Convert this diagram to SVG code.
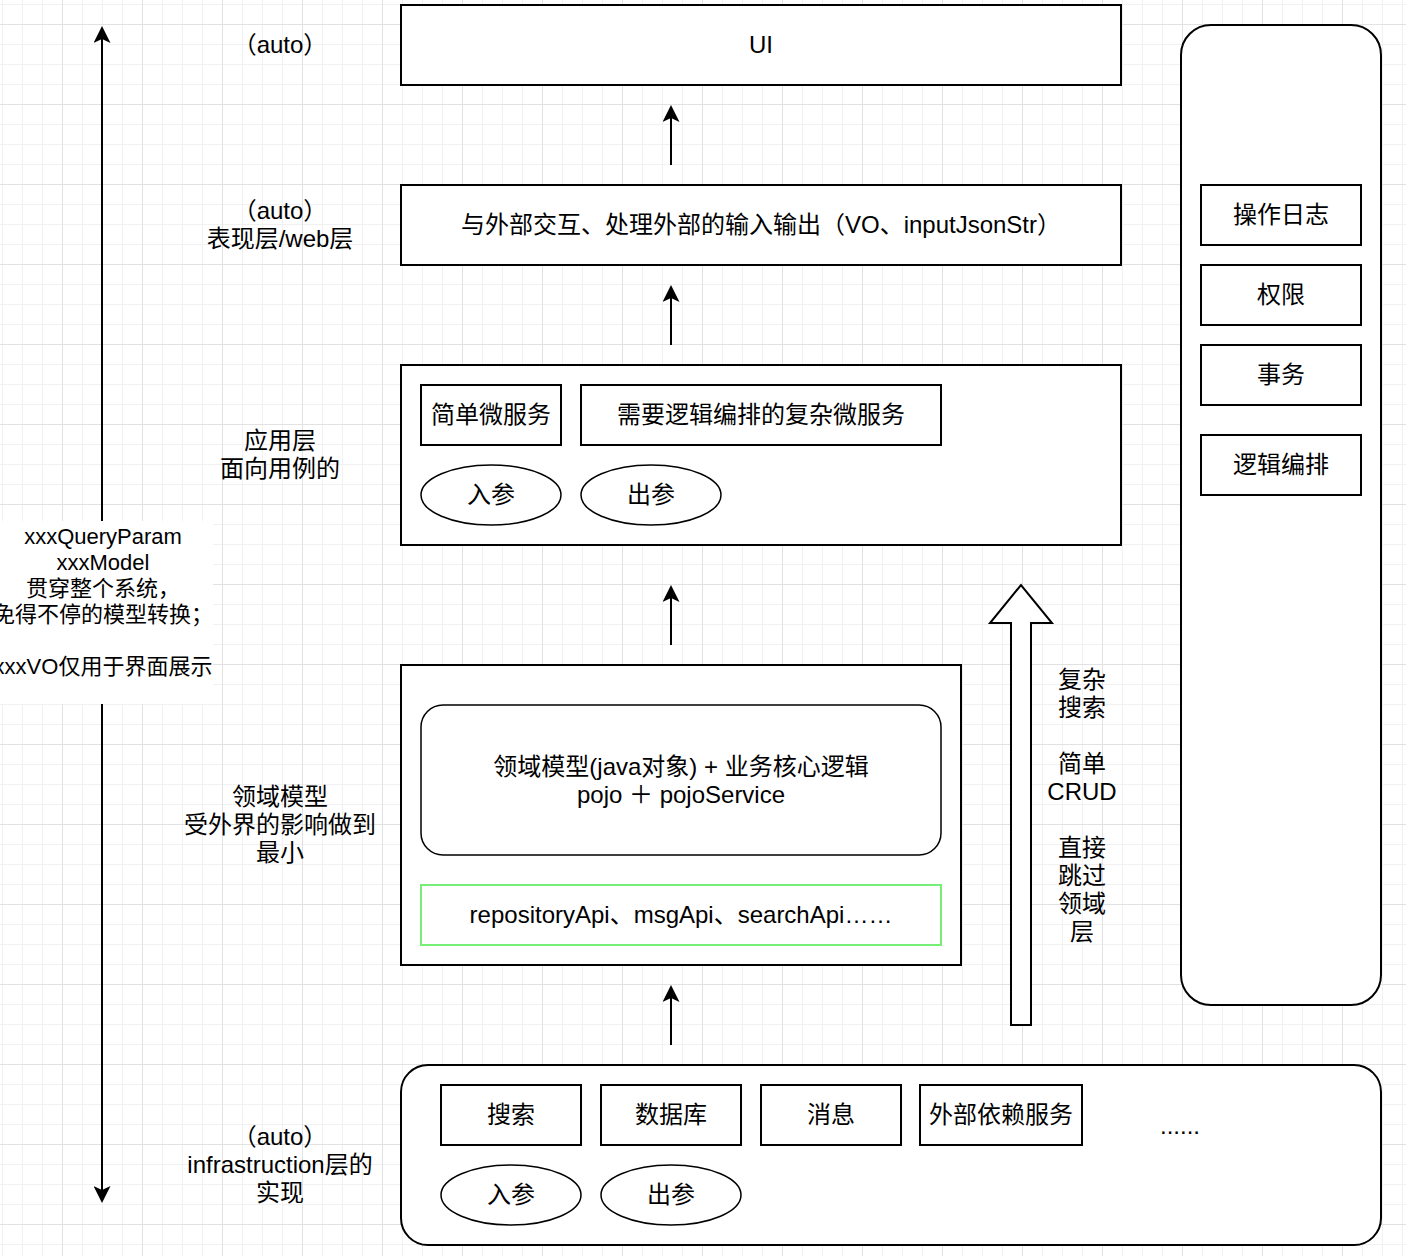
<svg xmlns="http://www.w3.org/2000/svg" width="1406" height="1256" viewBox="0 0 1406 1256">
<style>
text{font-family:"Liberation Sans","Noto Sans CJK SC",sans-serif;font-size:24px;fill:#000;text-anchor:middle}
.sm{font-size:22px}
.box{fill:#fff;stroke:#000;stroke-width:2}
.ell{fill:#fff;stroke:#000;stroke-width:1.5}
.conn{fill:none;stroke:#000;stroke-width:2}
</style>
<defs>
<pattern id="gmin" x="2" y="4" width="20" height="20" patternUnits="userSpaceOnUse"><rect width="20" height="1" fill="#f1f1f1"/><rect width="1" height="20" fill="#f1f1f1"/></pattern>
<pattern id="gmaj" x="62" y="24" width="80" height="80" patternUnits="userSpaceOnUse"><rect width="80" height="1" fill="#e2e2e2"/><rect width="1" height="80" fill="#e2e2e2"/></pattern>
<marker id="ah" viewBox="0 0 17 17" refX="4" refY="8.5" markerWidth="17" markerHeight="17" markerUnits="userSpaceOnUse" orient="auto-start-reverse"><path d="M0,0 L17,8.5 L0,17 L4,8.5 Z" fill="#000"/></marker>
</defs>
<rect width="1406" height="1256" fill="#fff"/>
<rect width="1406" height="1256" fill="url(#gmin)"/>
<rect width="1406" height="1256" fill="url(#gmaj)"/>

<g id="connectors">
<path class="conn" d="M102,39 L102,1190" marker-start="url(#ah)" marker-end="url(#ah)"/>
<path class="conn" d="M671,165 L671,118" marker-end="url(#ah)"/>
<path class="conn" d="M671,345 L671,298" marker-end="url(#ah)"/>
<path class="conn" d="M671,645 L671,598" marker-end="url(#ah)"/>
<path class="conn" d="M671,1045 L671,998" marker-end="url(#ah)"/>
<polygon points="1011,1025 1011,623 990,623 1021,585 1052,623 1031,623 1031,1025" fill="#fff" stroke="#000" stroke-width="2"/>
</g>

<g id="label-left">
<rect x="-7" y="521" width="220" height="183" fill="#fff"/>
<text class="sm" x="103" y="543.5">xxxQueryParam</text>
<text class="sm" x="103" y="569.5">xxxModel</text>
<text class="sm" x="103" y="595.5">贯穿整个系统，</text>
<text class="sm" x="103" y="621.5">免得不停的模型转换；</text>
<text class="sm" x="103" y="673.5">xxxVO仅用于界面展示</text>
</g>

<g id="layer-labels">
<text x="280" y="53">（auto）</text>
<text x="280" y="219">（auto）</text>
<text x="280" y="247">表现层/web层</text>
<text x="280" y="449">应用层</text>
<text x="280" y="477">面向用例的</text>
<text x="280" y="805">领域模型</text>
<text x="280" y="833">受外界的影响做到</text>
<text x="280" y="861">最小</text>
<text x="280" y="1145">（auto）</text>
<text x="280" y="1173">infrastruction层的</text>
<text x="280" y="1201">实现</text>
</g>

<g id="crud-label">
<text x="1082" y="688">复杂</text>
<text x="1082" y="716">搜索</text>
<text x="1082" y="772">简单</text>
<text x="1082" y="800">CRUD</text>
<text x="1082" y="856">直接</text>
<text x="1082" y="884">跳过</text>
<text x="1082" y="912">领域</text>
<text x="1082" y="940">层</text>
</g>

<g id="ui">
<rect class="box" x="401" y="5" width="720" height="80"/>
<text x="761" y="53">UI</text>
</g>

<g id="web">
<rect class="box" x="401" y="185" width="720" height="80"/>
<text x="761" y="233">与外部交互、处理外部的输入输出（VO、inputJsonStr）</text>
</g>

<g id="app">
<rect class="box" x="401" y="365" width="720" height="180"/>
<g id="app-simple"><rect class="box" x="421" y="385" width="140" height="60"/><text x="491" y="423">简单微服务</text></g>
<g id="app-complex"><rect class="box" x="581" y="385" width="360" height="60"/><text x="761" y="423">需要逻辑编排的复杂微服务</text></g>
<g id="app-in"><ellipse class="ell" cx="491" cy="495" rx="70" ry="30"/><text x="491" y="503">入参</text></g>
<g id="app-out"><ellipse class="ell" cx="651" cy="495" rx="70" ry="30"/><text x="651" y="503">出参</text></g>
</g>

<g id="domain">
<rect class="box" x="401" y="665" width="560" height="300"/>
<g id="domain-model"><rect x="421" y="705" width="520" height="150" rx="22" ry="22" fill="#fff" stroke="#000" stroke-width="1.5"/>
<text x="681" y="775">领域模型(java对象) + 业务核心逻辑</text>
<text x="681" y="803">pojo ＋ pojoService</text></g>
<g id="domain-api"><rect x="421" y="885" width="520" height="60" fill="#fff" stroke="#77ee77" stroke-width="2"/>
<text x="681" y="923">repositoryApi、msgApi、searchApi……</text></g>
</g>

<g id="infra">
<rect class="box" x="401" y="1065" width="980" height="180" rx="27" ry="27"/>
<g id="infra-search"><rect class="box" x="441" y="1085" width="140" height="60"/><text x="511" y="1123">搜索</text></g>
<g id="infra-db"><rect class="box" x="601" y="1085" width="140" height="60"/><text x="671" y="1123">数据库</text></g>
<g id="infra-msg"><rect class="box" x="761" y="1085" width="140" height="60"/><text x="831" y="1123">消息</text></g>
<g id="infra-ext"><rect class="box" x="920" y="1085" width="162" height="60"/><text x="1001" y="1123">外部依赖服务</text></g>
<text x="1180" y="1134">......</text>
<g id="infra-in"><ellipse class="ell" cx="511" cy="1195" rx="70" ry="30"/><text x="511" y="1203">入参</text></g>
<g id="infra-out"><ellipse class="ell" cx="671" cy="1195" rx="70" ry="30"/><text x="671" y="1203">出参</text></g>
</g>

<g id="cross-cutting">
<rect class="box" x="1181" y="25" width="200" height="980" rx="30" ry="30"/>
<g id="cc-log"><rect class="box" x="1201" y="185" width="160" height="60"/><text x="1281" y="223">操作日志</text></g>
<g id="cc-auth"><rect class="box" x="1201" y="265" width="160" height="60"/><text x="1281" y="303">权限</text></g>
<g id="cc-tx"><rect class="box" x="1201" y="345" width="160" height="60"/><text x="1281" y="383">事务</text></g>
<g id="cc-orch"><rect class="box" x="1201" y="435" width="160" height="60"/><text x="1281" y="473">逻辑编排</text></g>
</g>
</svg>
